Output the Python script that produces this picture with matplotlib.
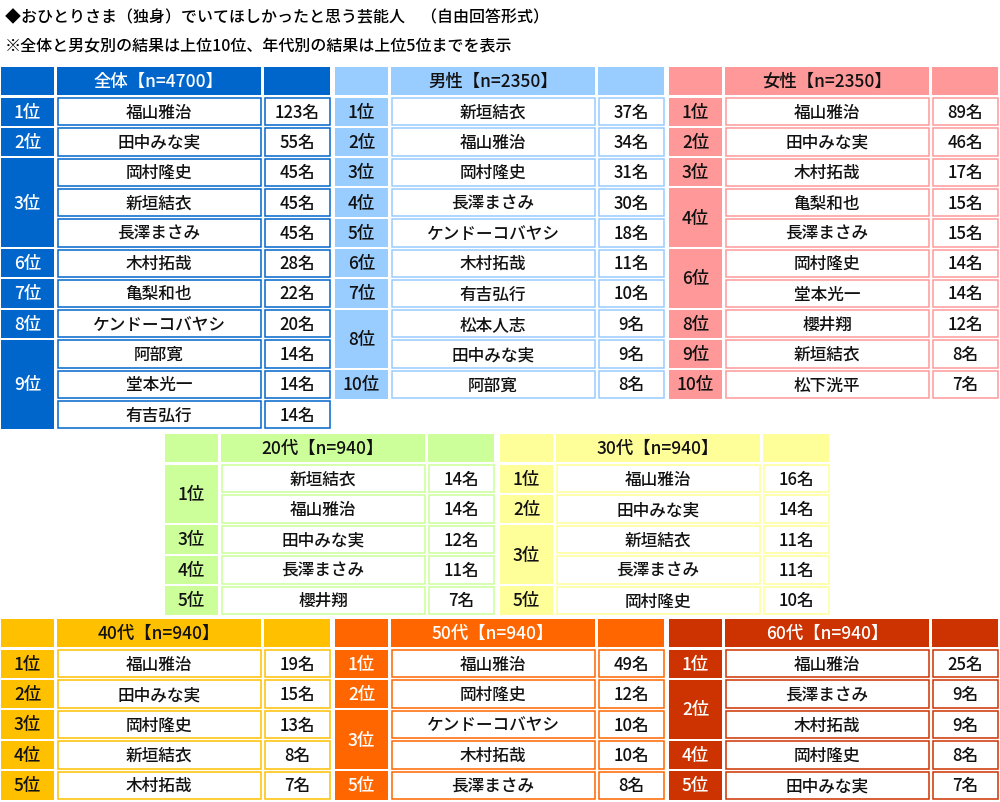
import matplotlib
matplotlib.use("Agg")
import matplotlib.pyplot as plt
from matplotlib.patches import Rectangle

plt.rcParams['font.family'] = ['Noto Sans CJK JP', 'DejaVu Sans']

title1 = "◆おひとりさま（独身）でいてほしかったと思う芸能人　（自由回答形式）"
title2 = "※全体と男女別の結果は上位10位、年代別の結果は上位5位までを表示"

all_title = "全体【n=4700】"
all_ranks = [1, 2, 3, 3, 3, 6, 7, 8, 9, 9, 9]
all_names = ["福山雅治", "田中みな実", "岡村隆史", "新垣結衣", "長澤まさみ", "木村拓哉", "亀梨和也", "ケンドーコバヤシ", "阿部寛", "堂本光一", "有吉弘行"]
all_counts = [123, 55, 45, 45, 45, 28, 22, 20, 14, 14, 14]

m_title = "男性【n=2350】"
m_ranks = [1, 2, 3, 4, 5, 6, 7, 8, 8, 10]
m_names = ["新垣結衣", "福山雅治", "岡村隆史", "長澤まさみ", "ケンドーコバヤシ", "木村拓哉", "有吉弘行", "松本人志", "田中みな実", "阿部寛"]
m_counts = [37, 34, 31, 30, 18, 11, 10, 9, 9, 8]

f_title = "女性【n=2350】"
f_ranks = [1, 2, 3, 4, 4, 6, 6, 8, 9, 10]
f_names = ["福山雅治", "田中みな実", "木村拓哉", "亀梨和也", "長澤まさみ", "岡村隆史", "堂本光一", "櫻井翔", "新垣結衣", "松下洸平"]
f_counts = [89, 46, 17, 15, 15, 14, 14, 12, 8, 7]

a20_title = "20代【n=940】"
a20_ranks = [1, 1, 3, 4, 5]
a20_names = ["新垣結衣", "福山雅治", "田中みな実", "長澤まさみ", "櫻井翔"]
a20_counts = [14, 14, 12, 11, 7]

a30_title = "30代【n=940】"
a30_ranks = [1, 2, 3, 3, 5]
a30_names = ["福山雅治", "田中みな実", "新垣結衣", "長澤まさみ", "岡村隆史"]
a30_counts = [16, 14, 11, 11, 10]

a40_title = "40代【n=940】"
a40_ranks = [1, 2, 3, 4, 5]
a40_names = ["福山雅治", "田中みな実", "岡村隆史", "新垣結衣", "木村拓哉"]
a40_counts = [19, 15, 13, 8, 7]

a50_title = "50代【n=940】"
a50_ranks = [1, 2, 3, 3, 5]
a50_names = ["福山雅治", "岡村隆史", "ケンドーコバヤシ", "木村拓哉", "長澤まさみ"]
a50_counts = [49, 12, 10, 10, 8]

a60_title = "60代【n=940】"
a60_ranks = [1, 2, 2, 4, 5]
a60_names = ["福山雅治", "長澤まさみ", "木村拓哉", "岡村隆史", "田中みな実"]
a60_counts = [25, 9, 9, 8, 7]

fig = plt.figure(figsize=(10, 8.03), dpi=100)
ax = fig.add_axes([0, 0, 1, 1])
ax.set_xlim(0, 1000)
ax.set_ylim(803, 0)
ax.axis('off')

ax.text(5, 18, title1, fontsize=11.5, va='center', ha='left', fontweight='medium')
ax.text(5, 47, title2, fontsize=11.5, va='center', ha='left', fontweight='medium')


def draw_table(x0, y0, title, ranks, names, counts, color, tcol, hh=29.5, pitch=30.4):
    cols = [(x0, 55), (x0 + 56, 206), (x0 + 263, 68)]
    for i, (cx, w) in enumerate(cols):
        ax.add_patch(Rectangle((cx + 1, y0 + 1), w - 2, hh - 2, facecolor=color, edgecolor='none'))
    ax.text(cols[1][0] + cols[1][1] / 2, y0 + hh / 2, title, fontsize=12.5, ha='center', va='center', color=tcol, fontweight='medium')
    ys = y0 + hh + 1
    i = 0
    n = len(ranks)
    while i < n:
        j = i
        while j + 1 < n and ranks[j + 1] == ranks[i]:
            j += 1
        top = ys + i * pitch
        h = (j - i + 1) * pitch
        ax.add_patch(Rectangle((cols[0][0] + 1, top + 1), cols[0][1] - 2, h - 2, facecolor=color, edgecolor='none'))
        ax.text(cols[0][0] + cols[0][1] / 2, top + h / 2, f"{ranks[i]}位", fontsize=12.5, ha='center', va='center', color=tcol, fontweight='medium')
        i = j + 1
    for k in range(n):
        top = ys + k * pitch
        for (cx, w), txt in ((cols[1], names[k]), (cols[2], f"{counts[k]}名")):
            ax.add_patch(Rectangle((cx + 1.5, top + 1.5), w - 3, pitch - 3, facecolor='white', edgecolor=color, lw=1.1))
            ax.text(cx + w / 2, top + pitch / 2, txt, fontsize=12, ha='center', va='center', color='#111111', fontweight='medium')


draw_table(0, 67, all_title, all_ranks, all_names, all_counts, '#0066CC', 'white', pitch=30.3)
draw_table(334, 67, m_title, m_ranks, m_names, m_counts, '#99CCFF', '#111111', pitch=30.3)
draw_table(668, 67, f_title, f_ranks, f_names, f_counts, '#FF9999', '#111111', pitch=30.3)
draw_table(164, 434, a20_title, a20_ranks, a20_names, a20_counts, '#CCFF99', '#111111')
draw_table(499, 434, a30_title, a30_ranks, a30_names, a30_counts, '#FFFF99', '#111111')
draw_table(0, 619, a40_title, a40_ranks, a40_names, a40_counts, '#FFC000', '#111111')
draw_table(334, 619, a50_title, a50_ranks, a50_names, a50_counts, '#FF6600', 'white')
draw_table(668, 619, a60_title, a60_ranks, a60_names, a60_counts, '#CC3300', 'white')

fig.savefig('out.png', dpi=100)
